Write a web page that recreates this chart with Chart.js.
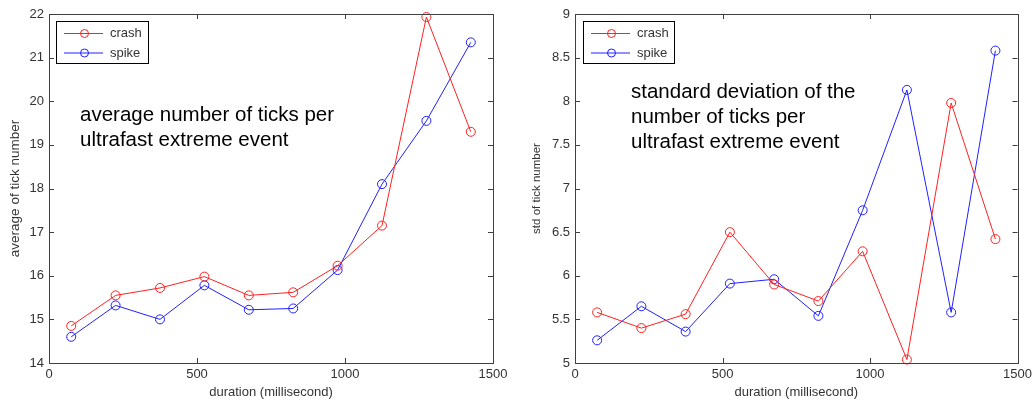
<!DOCTYPE html>
<html>
<head>
<meta charset="utf-8">
<script src="https://cdn.jsdelivr.net/npm/chart.js@4.4.1/dist/chart.umd.min.js"></script>
<style>
  html, body { margin: 0; padding: 0; background: #fff; }
  .panel { position: absolute; top: 0; width: 518px; height: 405px; }
  #leftPanel { left: 0; }
  #rightPanel { left: 518px; }
</style>
</head>
<body>
<div class="panel" id="leftPanel"><canvas id="chartAverage" width="518" height="405"></canvas></div>
<div class="panel" id="rightPanel"><canvas id="chartStd" width="518" height="405"></canvas></div>
<script>
// durations (ms), shared by both panels
const durations = [75, 225, 375, 525, 675, 825, 975, 1125, 1275, 1425];

// left panel: average number of ticks
const avgCrash = [14.85, 15.55, 15.72, 15.98, 15.55, 15.62, 16.23, 17.15, 21.93, 19.30];
const avgSpike = [14.60, 15.32, 15.00, 15.78, 15.22, 15.25, 16.13, 18.10, 19.55, 21.35];

// right panel: std of number of ticks
const stdCrash = [5.58, 5.40, 5.56, 6.50, 5.90, 5.71, 6.28, 5.04, 7.98, 6.42];
const stdSpike = [5.26, 5.65, 5.36, 5.91, 5.96, 5.54, 6.75, 8.13, 5.58, 8.58];

const seriesNames = ['crash', 'spike'];
const seriesColors = ['#ff2020', '#2020ff'];

const axisColor = '#404040';
const labelColor = '#333333';
const fontFamily = 'Arial, "Liberation Sans", sans-serif';

// MATLAB-like box with inward ticks on all sides
const boxPlugin = {
    id: 'matBox',
    afterDraw(chart) {
        const {ctx, chartArea: a, scales} = chart;
        const len = 5;
        ctx.save();
        ctx.strokeStyle = axisColor;
        ctx.lineWidth = 1;
        ctx.strokeRect(Math.round(a.left) + 0.5, Math.round(a.top) + 0.5,
            Math.round(a.right - a.left), Math.round(a.bottom - a.top));
        ctx.beginPath();
        scales.x.ticks.forEach(t => {
            const x = Math.round(scales.x.getPixelForValue(t.value)) + 0.5;
            ctx.moveTo(x, a.bottom); ctx.lineTo(x, a.bottom - len);
            ctx.moveTo(x, a.top); ctx.lineTo(x, a.top + len);
        });
        scales.y.ticks.forEach(t => {
            const y = Math.round(scales.y.getPixelForValue(t.value)) + 0.5;
            ctx.moveTo(a.left, y); ctx.lineTo(a.left + len, y);
            ctx.moveTo(a.right, y); ctx.lineTo(a.right - len, y);
        });
        ctx.stroke();
        ctx.restore();
    }
};

// boxed legend in the upper-left corner and the big note text
const notePlugin = {
    id: 'matNote',
    afterDraw(chart, args, opts) {
        const {ctx} = chart;
        ctx.save();
        // legend
        const lg = opts.legend;
        ctx.fillStyle = '#fff';
        ctx.fillRect(lg.x, lg.y, lg.w, lg.h);
        ctx.strokeStyle = '#000';
        ctx.lineWidth = 1;
        ctx.strokeRect(lg.x + 0.5, lg.y + 0.5, lg.w, lg.h);
        chart.data.datasets.forEach((ds, i) => {
            const y = lg.y + 12.5 + i * 19.5;
            ctx.strokeStyle = ds.borderColor;
            ctx.beginPath();
            ctx.moveTo(lg.x + 8, y); ctx.lineTo(lg.x + 47, y);
            ctx.stroke();
            ctx.beginPath();
            ctx.arc(lg.x + 28.5, y, 4, 0, Math.PI * 2);
            ctx.stroke();
            ctx.fillStyle = labelColor;
            ctx.font = '13px ' + fontFamily;
            ctx.textBaseline = 'middle';
            ctx.fillText(ds.label, lg.x + 54, y);
        });
        // note
        ctx.fillStyle = '#000';
        ctx.font = '20.5px ' + fontFamily;
        ctx.textBaseline = 'middle';
        opts.lines.forEach((line, i) => {
            ctx.fillText(line, opts.textX, opts.textY + i * 25);
        });
        ctx.restore();
    }
};

function buildChart(canvasId, crash, spike, yMin, yMax, yStep, yTitle, geo) {
    const ctx = document.getElementById(canvasId).getContext('2d');
    const values = [crash, spike];
    return new Chart(ctx, {
        type: 'line',
        data: {
            datasets: seriesNames.map((name, i) => ({
                label: name,
                data: durations.map((d, k) => ({x: d, y: values[i][k]})),
                borderColor: seriesColors[i],
                backgroundColor: 'rgba(0,0,0,0)',
                pointBackgroundColor: 'rgba(0,0,0,0)',
                pointBorderColor: seriesColors[i],
                pointBorderWidth: 1,
                pointRadius: 4.5,
                borderWidth: 1,
                tension: 0,
                clip: false
            }))
        },
        plugins: [boxPlugin, notePlugin],
        options: {
            responsive: false,
            animation: false,
            events: [],
            layout: {padding: {top: 14, right: geo.rightPad, left: 0, bottom: 0}},
            plugins: {
                legend: {display: false},
                tooltip: {enabled: false},
                matNote: {legend: geo.legend, lines: geo.lines, textX: geo.textX, textY: geo.textY}
            },
            scales: {
                x: {
                    type: 'linear',
                    min: 0, max: 1500,
                    grid: {display: false, drawTicks: false},
                    border: {display: false},
                    ticks: {stepSize: 500, padding: 4, color: labelColor,
                        font: {family: fontFamily, size: 13},
                        callback: v => String(v)},
                    title: {display: true, text: 'duration (millisecond)', color: labelColor,
                        font: {family: fontFamily, size: 13}, padding: {top: 0, bottom: 5}},
                    afterFit: s => { s.height = 42; }
                },
                y: {
                    min: yMin, max: yMax,
                    grid: {display: false, drawTicks: false},
                    border: {display: false},
                    ticks: {stepSize: yStep, padding: 5, color: labelColor,
                        font: {family: fontFamily, size: 13},
                        callback: v => String(v)},
                    title: {display: true, text: yTitle, color: labelColor,
                        font: {family: fontFamily, size: geo.yTitleSize}, padding: {top: geo.yTitlePad, bottom: 0}},
                    afterFit: s => { s.width = geo.yWidth; }
                }
            }
        }
    });
}

buildChart('chartAverage', avgCrash, avgSpike, 14, 22, 1, 'average of tick number', {
    rightPad: 25, yWidth: 49, yTitlePad: 7, yTitleSize: 13.5,
    legend: {x: 56, y: 21, w: 92, h: 42},
    lines: ['average number of ticks per', 'ultrafast extreme event'],
    textX: 80, textY: 115
});

buildChart('chartStd', stdCrash, stdSpike, 5, 9, 0.5, 'std of tick number', {
    rightPad: 18, yWidth: 57, yTitlePad: 12, yTitleSize: 11.5,
    legend: {x: 65, y: 21, w: 91, h: 42},
    lines: ['standard deviation of the', 'number of ticks per', 'ultrafast extreme event'],
    textX: 113, textY: 92
});
</script>
</body>
</html>
